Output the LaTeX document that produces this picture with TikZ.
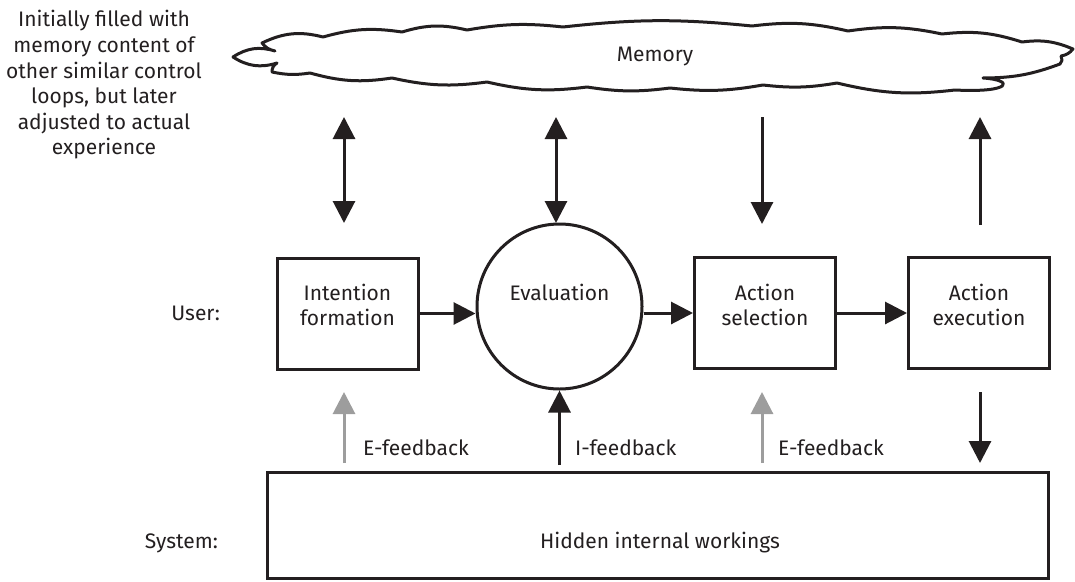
\documentclass[tikz,border=0pt]{standalone}
\usepackage{fontspec}
\setmainfont{Fira Sans}
\usetikzlibrary{arrows.meta}
\definecolor{ink}{HTML}{231F20}
\definecolor{fbgray}{HTML}{9D9D9D}
\begin{document}
\begin{tikzpicture}[x=1pt,y=1pt,
  font=\fontsize{21}{25.6}\selectfont, text=ink,
  box/.style={draw=ink, line width=3pt, minimum width=141pt, minimum height=111pt, inner sep=0},
  lbl/.style={align=center, inner sep=0},
  arr/.style={draw=ink, line width=3pt, -{Triangle[length=22pt,width=22pt]}},
  darr/.style={draw=ink, line width=3pt, {Triangle[length=22pt,width=22pt]}-{Triangle[length=22pt,width=22pt]}},
  garr/.style={draw=fbgray, line width=3pt, -{Triangle[length=22pt,width=22pt]}},
  cloudline/.style={draw=ink, line width=3pt, line join=round}]
\useasboundingbox (0,0) rectangle (1075,-581);

% cloud
\draw[cloudline]
 (233,-57) to[bend left=25] (275,-51)
 to[bend left=20] (262,-43)
 to[bend left=20] (323,-37)
 to[bend left=12] (402,-32)
 to[bend left=15] (467,-30)
 to[bend left=8] (563,-27)
 to[bend left=6] (752,-26)
 to[bend left=10] (848,-31)
 to[bend left=10] (942,-34)
 to[bend left=12] (1022,-42)
 to[bend left=15] (1073,-49)
 to[bend left=20] (1061,-56)
 to[bend left=40] (1060,-64)
 to[bend left=10] (983,-78)
 .. controls (1015,-80) and (1012,-93) .. (955,-90)
 to[bend left=10] (837,-83)
 to[bend left=8] (763,-85)
 to[bend left=8] (670,-88)
 to[bend left=8] (587,-87)
 to[bend left=10] (487,-82)
 to[bend left=10] (392,-78)
 to[bend left=12] (310,-73)
 to[bend left=10] (272,-72)
 to[bend left=30] (277,-63)
 to[bend left=25] (233,-57) -- cycle;
\node[lbl] (mem) at (655,-56) {Memory};

\node[lbl] (note) at (104,-85) {Initially filled with\\memory content of\\other similar control\\loops, but later\\adjusted to actual\\experience};

% user row
\node[box] (intent) at (347.5,-313.5) {};
\node[lbl] (intentT) at (347.5,-305) {Intention\\formation};
\node[draw=ink, line width=3pt, circle, minimum size=165pt, inner sep=0] (eval) at (559.5,-306.5) {};
\node[lbl] (evalT) at (559.5,-292) {Evaluation};
\node[box] (sel) at (765,-313) {};
\node[lbl] (selT) at (765,-305) {Action\\selection};
\node[box] (exec) at (979,-313) {};
\node[lbl] (execT) at (979,-305) {Action\\execution};
\node[lbl, anchor=east] (user) at (220,-313) {User:};

% system
\node[draw=ink, line width=3pt, minimum width=781pt, minimum height=106pt, inner sep=0] (sys) at (657.5,-525) {};
\node[lbl] (sysT) at (660,-543) {Hidden internal workings};
\node[lbl, anchor=east] (system) at (218,-543) {System:};

% memory arrows
\coordinate (m1a) at (344,-117); \coordinate (m1b) at (344,-223);
\coordinate (m2a) at (556,-117); \coordinate (m2b) at (556,-223);
\coordinate (m3a) at (762,-117); \coordinate (m3b) at (762,-224);
\coordinate (m4a) at (980,-117); \coordinate (m4b) at (980,-225);
\draw[darr] (m1a) -- (m1b);
\draw[darr] (m2a) -- (m2b);
\draw[arr] (m3a) -- (m3b);
\draw[arr] (m4b) -- (m4a);

% horizontal flow
\draw[arr] (intent.east) -- (intent.east -| eval.west);
\draw[arr] (eval.east |- sel.west) -- (sel.west);
\draw[arr] (sel.east) -- (exec.west);

% feedback arrows
\coordinate (f1a) at (344,-463); \coordinate (f1b) at (344,-392);
\coordinate (f2a) at (559.5,-465);
\coordinate (f3a) at (762,-463); \coordinate (f3b) at (762,-392);
\coordinate (f4a) at (980,-392); \coordinate (f4b) at (980,-463);
\draw[garr] (f1a) -- (f1b);
\draw[arr] (f2a) -- (eval.south);
\draw[garr] (f3a) -- (f3b);
\draw[arr] (f4a) -- (f4b);

\node[lbl, anchor=west] (fb1) at (363,-448) {E-feedback};
\node[lbl, anchor=west] (fb2) at (575,-448) {I-feedback};
\node[lbl, anchor=west] (fb3) at (778,-448) {E-feedback};
\end{tikzpicture}
\end{document}
